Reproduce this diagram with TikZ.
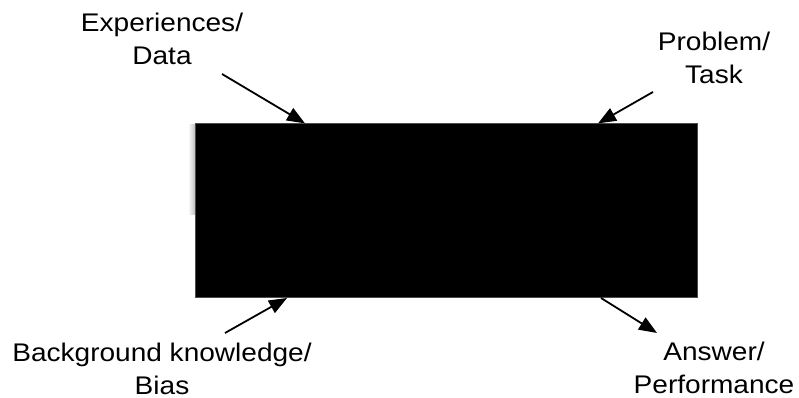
\documentclass[tikz,border=0pt]{standalone}
\usepackage{fontspec}
\setmainfont{Liberation Sans}[FakeStretch=1.1]
\usetikzlibrary{arrows.meta,calc}
\begin{document}
\begin{tikzpicture}[x=1pt,y=1pt,
  lbl/.style={align=center,inner sep=0pt,anchor=base,font=\fontsize{25.5}{33}\selectfont},
  arr/.style={line width=1.8pt,-{Triangle[length=18pt,width=14pt]}},
  blackbox/.style={fill=black,draw=black!70,line width=0.6pt}]
\useasboundingbox (0,0) rectangle (799,398);
\shade[left color=white,right color=black!25] (188,183) rectangle (195,273);
\node[blackbox,minimum width=502pt,minimum height=174pt,inner sep=0pt,anchor=south west] (box) at (195,100) {};
\node[lbl] (exp) at (162,333) {Experiences/\\Data};
\node[lbl] (prob) at (714,314.7) {Problem/\\Task};
\node[lbl] (bg) at (162,3.5) {Background knowledge/\\Bias};
\node[lbl] (ans) at (714,4) {Answer/\\Performance};
\coordinate (expS) at (222,324);
\coordinate (probS) at (653,306);
\coordinate (bgS) at (225,65);
\coordinate (ansT) at (657,65);
\draw[arr] (expS) -- ($(box.north west)+(110,0)$);
\draw[arr] (probS) -- ($(box.north west)+(403,0)$);
\draw[arr] (bgS) -- ($(box.south west)+(92,0)$);
\draw[arr] ($(box.south west)+(406,0)$) -- (ansT);
\end{tikzpicture}
\end{document}
